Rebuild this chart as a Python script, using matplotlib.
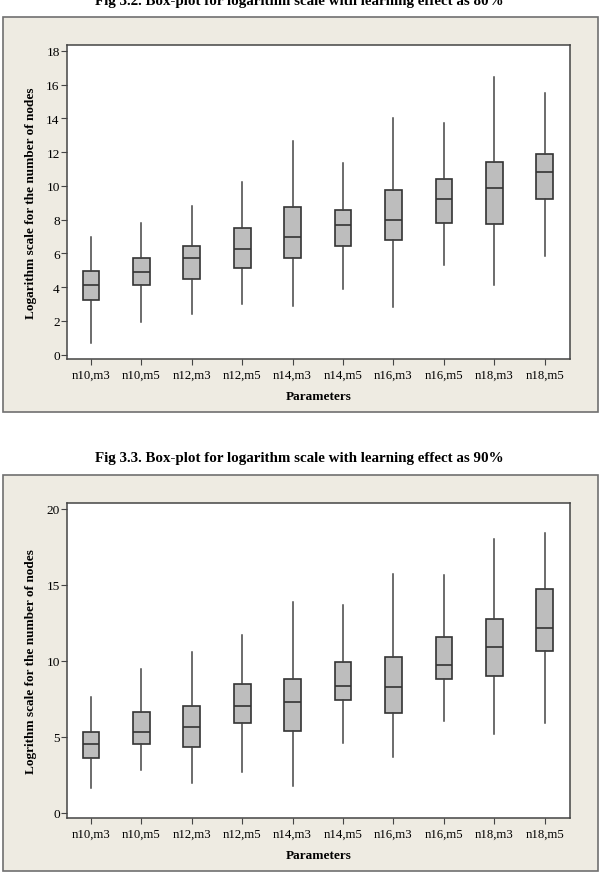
import matplotlib.pyplot as plt
from matplotlib.patches import Rectangle

# Parameter groups (same for both figures)
params = ["n10,m3", "n10,m5", "n12,m3", "n12,m5", "n14,m3",
          "n14,m5", "n16,m3", "n16,m5", "n18,m3", "n18,m5"]

# Fig 3.2 - learning effect 80%
lo80 = [0.67, 1.95, 2.39, 3.0, 2.9, 3.87, 2.82, 5.33, 4.16, 5.86]
q1_80 = [3.26, 4.12, 4.48, 5.11, 5.72, 6.43, 6.81, 7.78, 7.72, 9.2]
med80 = [4.12, 4.93, 5.72, 6.28, 6.95, 7.68, 7.99, 9.2, 9.87, 10.8]
q3_80 = [4.97, 5.72, 6.45, 7.5, 8.72, 8.58, 9.77, 10.38, 11.41, 11.9]
hi80 = [7.0, 7.83, 8.8, 10.2, 12.63, 11.35, 13.99, 13.74, 16.42, 15.51]

# Fig 3.3 - learning effect 90%
lo90 = [1.62, 2.83, 1.97, 2.72, 1.75, 4.61, 3.66, 6.03, 5.22, 5.9]
q1_90 = [3.62, 4.56, 4.34, 5.92, 5.37, 7.41, 6.6, 8.79, 9.04, 10.64]
med90 = [4.52, 5.31, 5.66, 7.02, 7.28, 8.38, 8.31, 9.74, 10.9, 12.17]
q3_90 = [5.31, 6.67, 7.02, 8.51, 8.79, 9.96, 10.29, 11.58, 12.74, 14.76]
hi90 = [7.65, 9.47, 10.57, 11.73, 13.9, 13.71, 15.72, 15.66, 18.0, 18.44]

plt.rcParams['font.family'] = ['Liberation Serif', 'DejaVu Serif']

W, H = 606, 879
fig = plt.figure(figsize=(W / 100, H / 100), dpi=100)
beige = "#eeebe2"


def px(x0, y0, x1, y1):
    # pixel box (top-left origin) -> figure fraction rect
    return [x0 / W, 1 - y1 / H, (x1 - x0) / W, (y1 - y0) / H]


def draw_panel(rect_px, ax_px, title, title_y, lo, q1, med, q3, hi, ylim, yticks, ylabel):
    r = px(*rect_px)
    fig.patches.append(Rectangle(r[:2], r[2], r[3],
                                 transform=fig.transFigure, facecolor=beige,
                                 edgecolor="#707070", linewidth=1.2, zorder=-5))
    fig.text(299 / W, 1 - title_y / H, title, ha="center", va="center",
             fontsize=10.8, fontweight="bold")
    ax = fig.add_axes(px(*ax_px))
    ax.set_zorder(2)
    stats = []
    for i in range(len(params)):
        stats.append(dict(whislo=lo[i], q1=q1[i], med=med[i], q3=q3[i],
                          whishi=hi[i], label=params[i]))
    ax.bxp(stats, positions=range(1, len(params) + 1), widths=0.33,
           showfliers=False, showcaps=False, patch_artist=True,
           boxprops=dict(facecolor="#bdbdbd", edgecolor="#333333", linewidth=1.2),
           medianprops=dict(color="#333333", linewidth=1.2),
           whiskerprops=dict(color="#444444", linewidth=1.1))
    ax.set_xlim(0.52, 10.5)
    ax.set_ylim(*ylim)
    ax.set_yticks(yticks)
    ax.set_xticklabels(params, fontsize=9.2)
    ax.tick_params(axis="y", labelsize=9.6, length=4, color="#444444", pad=1)
    ax.tick_params(axis="x", length=4, color="#444444", pad=3)
    for s in ax.spines.values():
        s.set_color("#444444")
        s.set_linewidth(1.1)
    ax.set_xlabel("Parameters", fontsize=9.5, fontweight="bold", labelpad=7)
    ax.set_ylabel(ylabel, fontsize=9.5, fontweight="bold", labelpad=7)
    return ax


draw_panel((3, 18, 598, 413), (66.7, 46, 570, 360),
           "Fig 3.2. Box-plot for logarithm scale with learning effect as 80%", 2,
           lo80, q1_80, med80, q3_80, hi80, (-0.25, 18.34), range(0, 19, 2),
           "Logarithm scale for the number of nodes")

draw_panel((3, 476, 598, 872), (66.7, 504.3, 570, 819),
           "Fig 3.3. Box-plot for logarithm scale with learning effect as 90%", 459,
           lo90, q1_90, med90, q3_90, hi90, (-0.33, 20.37), range(0, 21, 5),
           "Logrithm scale for the number of nodes")

fig.savefig("out.png", dpi=100)
